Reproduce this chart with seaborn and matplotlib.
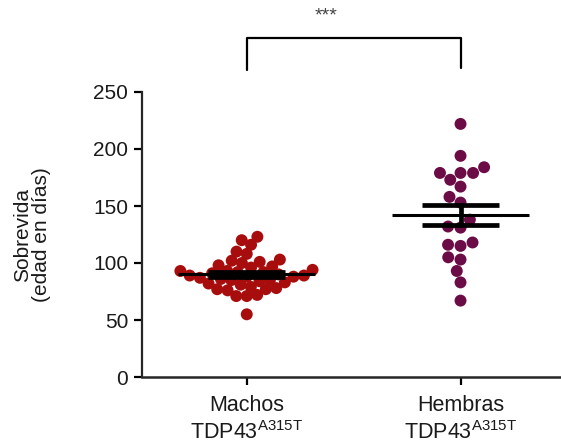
import numpy as np
import pandas as pd
import matplotlib
matplotlib.use("Agg")
import matplotlib.pyplot as plt
import seaborn as sns

categories = ["Machos\nTDP43$^{\\mathregular{A315T}}$", "Hembras\nTDP43$^{\\mathregular{A315T}}$"]
machos = [123, 120, 116, 110, 108, 103, 102, 101, 100, 98, 97, 96,
          94, 93, 93, 92, 92, 91, 90, 89, 89, 88, 88, 87,
          86, 85, 85, 84, 83, 82, 81, 79, 78, 77, 77, 76, 72, 71, 71, 55]
hembras = [222, 194, 179, 184, 179, 179, 173, 167, 158, 153, 138, 132, 131, 118,
           115, 116, 103, 105, 93, 83, 67]
colors = ["#a80d0d", "#6b0c47"]
yticks = [0, 50, 100, 150, 200, 250]
signif = "***"

sns.set_style("ticks")
plt.rcParams['font.family'] = ['Liberation Sans', 'DejaVu Sans']
plt.rcParams['mathtext.fontset'] = 'custom'
plt.rcParams['mathtext.rm'] = 'Liberation Sans'
plt.rcParams['mathtext.it'] = 'Liberation Sans:italic'

df = pd.DataFrame({
    "grupo": [categories[0]] * len(machos) + [categories[1]] * len(hembras),
    "dias": machos + hembras,
})

fig = plt.figure(figsize=(5.61, 4.48), dpi=100)
ax = fig.add_axes([142 / 561, (448 - 377) / 448, 1 - 142 / 561, (377 - 92) / 448])

sns.swarmplot(data=df, x="grupo", y="dias", hue="grupo", palette=colors,
              order=categories, hue_order=categories, size=8.6, ax=ax,
              legend=False, linewidth=0, zorder=2)

ax.set_xlim(-0.49, 1.47)
ax.set_ylim(0, 250)

# lay out the swarm with a tighter spacing for the dense male group, then
# freeze the positions and enlarge the markers so they overlap as in the original
layout_sizes = [7.2, 8.6]
swarms = list(ax.collections)
for coll, sz in zip(swarms, layout_sizes):
    coll.set_sizes([sz ** 2])
fig.canvas.draw()
for coll in swarms:
    if "draw" in coll.__dict__:
        del coll.__dict__["draw"]
    coll.set_sizes([8.6 ** 2])

for i, vals in enumerate([machos, hembras]):
    v = np.array(vals, dtype=float)
    m = v.mean()
    sem = v.std(ddof=1) / np.sqrt(len(v))
    ax.plot([i - 0.32, i + 0.32], [m, m], color="black", lw=2.2, zorder=4, solid_capstyle="butt")
    ax.plot([i - 0.18, i + 0.18], [m + sem, m + sem], color="black", lw=3.4, zorder=4, solid_capstyle="butt")
    ax.plot([i - 0.18, i + 0.18], [m - sem, m - sem], color="black", lw=3.4, zorder=4, solid_capstyle="butt")
    ax.plot([i, i], [m - sem, m + sem], color="black", lw=3.4, zorder=4)

ax.set_yticks(yticks)
ax.set_yticklabels([str(t) for t in yticks], fontsize=15, color="#1a1a1a")
ax.set_xticks([0, 1])
ax.set_xticklabels(categories, fontsize=15.5, color="#1a1a1a", linespacing=1.3)
ax.set_xlabel("")
ax.set_ylabel("Sobrevida\n(edad en días)", fontsize=15, color="#1a1a1a", labelpad=30, linespacing=1.05)
ax.tick_params(axis="both", length=6, width=1.6, color="black", pad=4)
ax.tick_params(axis="x", pad=7)
for s in ["top", "right"]:
    ax.spines[s].set_visible(False)
ax.spines["left"].set_linewidth(1.6)
ax.spines["bottom"].set_linewidth(1.8)
ax.spines["left"].set_bounds(0, 250)

# significance bracket
ax.plot([0, 0, 1, 1], [269, 297, 297, 271], color="black", lw=1.6, clip_on=False)
ax.text(0.37, 317, signif, ha="center", va="center", fontsize=14, color="#444444", clip_on=False)

fig.savefig("out.png", dpi=100)
